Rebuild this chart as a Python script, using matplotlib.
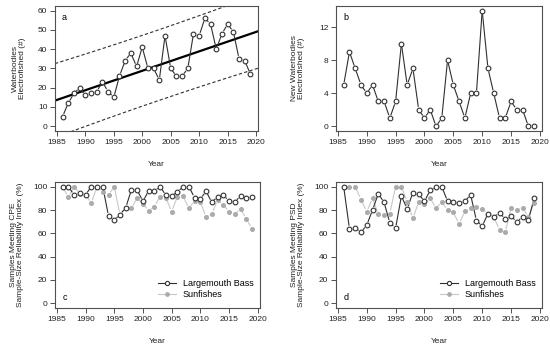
import matplotlib
matplotlib.use('Agg')
import matplotlib.pyplot as plt
import numpy as np

plt.rcParams['font.family'] = ['Liberation Sans', 'DejaVu Sans']

years = np.arange(1986, 2020)

# panel a: waterbodies electrofished
waterbodies = [5, 12, 17, 20, 16, 17, 18, 23, 18, 15, 26, 34, 38, 31, 41, 30, 30, 24, 47, 30,
               26, 26, 30, 48, 47, 56, 53, 40, 48, 53, 49, 35, 34, 27]
# panel b: new waterbodies electrofished
new_waterbodies = [5, 9, 7, 5, 4, 5, 3, 3, 1, 3, 10, 5, 7, 2, 1, 2, 0, 1, 8, 5,
                   3, 1, 4, 4, 14, 7, 4, 1, 1, 3, 2, 2, 0, 0]
# panel c: CPE reliability
cpe_lmb = [100, 100, 93, 94.5, 93, 100, 100, 100, 75, 71.5, 76, 82, 97.5, 97, 87.5, 96.5, 96.5, 100, 92.5, 92,
           95.5, 100, 100, 90.5, 89.5, 96, 86.5, 91.5, 92.5, 88, 87, 92, 90, 91]
cpe_sun = [100, 91, 100, 94, 93, 86, 100, 95.5, 93, 100, 76, 82, 81.5, 90.5, 85, 79.5, 83, 91.5, 90.5, 78.5,
           91.5, 92, 81.5, 88, 87, 74, 77, 88.5, 84.5, 78.5, 76.5, 81, 72.5, 64]
# panel d: PSD reliability
psd_lmb = [100, 64, 64.5, 61, 67, 80, 94, 86.5, 69, 64.5, 92, 81, 95, 93.5, 87.5, 97, 100, 100, 87.5, 86.5,
           86, 87.5, 93, 71, 66, 77, 74, 77.5, 72.5, 74.5, 70, 74, 71.5, 90]
psd_sun = [100, 100, 100, 89, 78.5, 90, 76.5, 75.5, 77, 100, 100, 87, 73, 87, 85, 90, 81.5, 87, 80, 78,
           68, 79, 81.5, 82.5, 81, 77, 74, 63, 61, 82, 80, 82, 74, 86]

series_names = ['Largemouth Bass', 'Sunfishes']
xticks = np.arange(1985, 2021, 5)

FS = 6
DARK = '#303030'
GREY_PT = '#ababab'
GREY_LN = '#c8c8c8'
AXCOL = '#505050'


def r_lim(lo, hi):
    ext = (hi - lo) * 0.04
    return lo - ext, hi + ext


def style_axes(ax, yticks, ylim, ylabel, ylab_x, panel, panel_top=True):
    ax.set_xlim(*r_lim(years[0], years[-1]))
    ax.set_ylim(*ylim)
    ax.set_xticks(xticks)
    ax.set_yticks(yticks)
    ax.tick_params(direction='out', length=3.5, width=0.7, color=AXCOL,
                   labelsize=FS, labelcolor='#222222', pad=2)
    for s in ax.spines.values():
        s.set_color(AXCOL)
        s.set_linewidth(0.8)
    ax.text(ylab_x, 0.5, ylabel, transform=ax.transAxes, rotation=90,
            ha='center', va='center', fontsize=FS, color='#222222', linespacing=1.1)
    ax.text(0.5, -0.265, 'Year', transform=ax.transAxes, ha='center', va='center',
            fontsize=FS, color='#222222')
    if panel_top:
        ax.text(0.035, 0.91, panel, transform=ax.transAxes, fontsize=FS + 0.5, va='center')
    else:
        ax.text(0.035, 0.08, panel, transform=ax.transAxes, fontsize=FS + 0.5, va='center')


def type_b(ax, x, y, color, gap=3.0):
    # R type="b": segments that stop short of the points
    pts = ax.transData.transform(np.column_stack([x, np.asarray(y, float)]))
    inv = ax.transData.inverted()
    for p0, p1 in zip(pts[:-1], pts[1:]):
        d = p1 - p0
        L = np.hypot(*d)
        if L <= 2 * gap:
            continue
        u = d / L
        a = inv.transform(p0 + u * gap)
        b = inv.transform(p1 - u * gap)
        ax.plot([a[0], b[0]], [a[1], b[1]], color=color, lw=0.8, solid_capstyle='butt')


fig = plt.figure(figsize=(5.5, 3.5), dpi=100)
ax_a = fig.add_axes([0.100, 0.626, 0.369, 0.357])
ax_b = fig.add_axes([0.611, 0.626, 0.374, 0.357])
ax_c = fig.add_axes([0.100, 0.120, 0.372, 0.360])
ax_d = fig.add_axes([0.611, 0.120, 0.374, 0.360])

# --- a
style_axes(ax_a, np.arange(0, 61, 10), r_lim(0, 60),
           'Waterbodies\nElectrofished (#)', -0.177, 'a')
slope, icpt = np.polyfit(years, waterbodies, 1)
resid = np.asarray(waterbodies) - (icpt + slope * years)
n = len(years)
s = np.sqrt(np.sum(resid ** 2) / (n - 2))
tval = 2.037  # t(0.975, 32)
xl = np.linspace(*ax_a.get_xlim(), 50)
fit = icpt + slope * xl
half = tval * s * np.sqrt(1 + 1 / n + (xl - years.mean()) ** 2 / np.sum((years - years.mean()) ** 2))
ax_a.plot(xl, fit, color='black', lw=1.6)
ax_a.plot(xl, fit + half, color=DARK, lw=0.8, ls=(0, (3, 2)))
ax_a.plot(xl, fit - half, color=DARK, lw=0.8, ls=(0, (3, 2)))
type_b(ax_a, years, waterbodies, DARK)
ax_a.plot(years, waterbodies, 'o', ms=3.4, mfc='white', mec=DARK, mew=0.8, ls='none')

# --- b
style_axes(ax_b, np.arange(0, 13, 4), r_lim(0, 14),
           'New Waterbodies\nElectrofished (#)', -0.184, 'b')
type_b(ax_b, years, new_waterbodies, DARK)
ax_b.plot(years, new_waterbodies, 'o', ms=3.4, mfc='white', mec=DARK, mew=0.8, ls='none')

# --- c, d
for ax, lmb, sun, lab, lx, p in [
        (ax_c, cpe_lmb, cpe_sun, 'Samples Meeting CPE\nSample-Size Reliability Index (%)', -0.185, 'c'),
        (ax_d, psd_lmb, psd_sun, 'Samples Meeting PSD\nSample-Size Reliability Index (%)', -0.184, 'd')]:
    style_axes(ax, np.arange(0, 101, 20), r_lim(0, 100), lab, lx, p, panel_top=False)
    type_b(ax, years, sun, GREY_LN)
    type_b(ax, years, lmb, DARK)
    ax.plot(years, sun, 'o', ms=2.6, color=GREY_PT, ls='none')
    ax.plot(years, lmb, 'o', ms=3.4, mfc='white', mec=DARK, mew=0.8, ls='none')
    h1, = ax.plot([], [], '-o', color=DARK, lw=0.8, ms=3.0, mfc='white', mec=DARK, mew=0.8)
    h2, = ax.plot([], [], '-o', color=GREY_LN, lw=0.8, ms=2.4, mfc=GREY_PT, mec=GREY_PT)
    ax.legend([h1, h2], series_names, loc='lower right', frameon=False, fontsize=FS + 0.5,
              handlelength=2.0, handletextpad=0.7, labelspacing=0.25,
              borderaxespad=0.3, bbox_to_anchor=(1.0, 0.02))

fig.savefig('out.png', dpi=100)
